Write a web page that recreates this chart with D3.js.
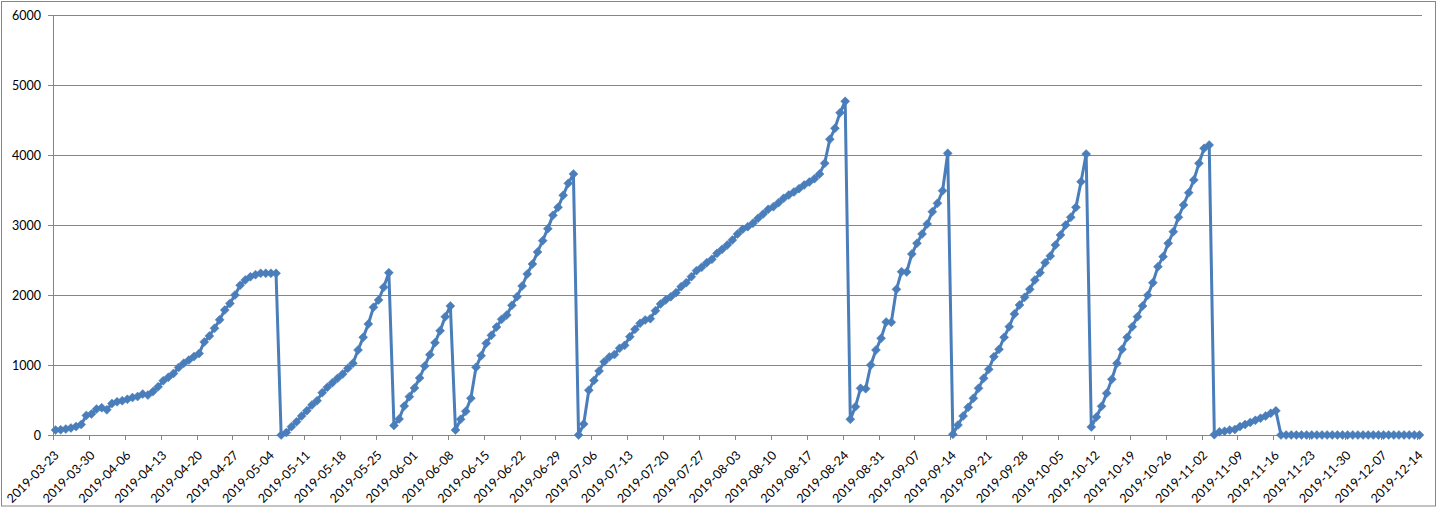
<!DOCTYPE html>
<html><head><meta charset="utf-8">
<script src="https://cdn.jsdelivr.net/npm/d3@7"></script>
<style>
html,body{margin:0;padding:0;background:#fff;}
svg{display:block;}
text{font-family:Lato,"Liberation Sans",sans-serif;font-size:12.5px;fill:#000;}
</style></head><body>
<svg id="chart" width="1438" height="510"></svg>
<script>
// ---- data ----
const startDate = "2019-03-23";
const values = [
  // 2019-03-23 .. 2019-05-05
  70, 75, 85, 100, 120, 150, 280, 300, 370, 390, 360, 450, 475, 490, 510, 535, 550, 585, 570, 620,
  690, 775, 825, 880, 965, 1025, 1070, 1120, 1165, 1330, 1415, 1525, 1645, 1785, 1880, 2000, 2140, 2215, 2260, 2290,
  2310, 2310, 2310, 2310,
  // 2019-05-06 .. 2019-05-27
  0, 35, 119, 190, 271, 348, 429, 490, 605, 681, 748, 810, 871, 952, 1024, 1214, 1395, 1586, 1824, 1929, 2110, 2319,
  // 2019-05-28 .. 2019-06-08
  135, 230, 414, 548, 671, 814, 986, 1148, 1319, 1490, 1690, 1843,
  // 2019-06-09 .. 2019-07-02
  71, 224, 338, 524, 967, 1133, 1310, 1424, 1543, 1652, 1714, 1852, 1976, 2129, 2300, 2443, 2614, 2776, 2948, 3138,
  3252, 3424, 3595, 3729,
  // 2019-07-03 .. 2019-08-24
  0, 157, 640, 780, 915, 1045, 1115, 1150, 1238, 1281, 1405, 1510, 1595, 1643, 1662, 1776, 1871, 1929, 1976, 2033,
  2119, 2176, 2262, 2348, 2395, 2462, 2510, 2595, 2652, 2714, 2786, 2871, 2938, 2976, 3024, 3095, 3157, 3224, 3262, 3319,
  3381, 3429, 3471, 3519, 3571, 3614, 3662, 3729, 3881, 4224, 4381, 4605, 4767,
  // 2019-08-25 .. 2019-09-13
  224, 405, 667, 662, 1000, 1214, 1381, 1614, 1610, 2081, 2333, 2329, 2586, 2738, 2871, 3014, 3190, 3310, 3490, 4024,
  // 2019-09-14 .. 2019-10-10
  10, 143, 271, 395, 524, 667, 810, 938, 1119, 1224, 1395, 1548, 1729, 1857, 1967, 2081, 2214, 2319, 2462, 2557,
  2714, 2857, 3000, 3110, 3252, 3619, 4014,
  // 2019-10-11 .. 2019-11-03
  115, 257, 410, 595, 795, 1024, 1224, 1395, 1548, 1690, 1843, 1995, 2176, 2405, 2548, 2738, 2905, 3110, 3286, 3462,
  3643, 3881, 4095, 4143,
  // 2019-11-04 .. 2019-11-16
  5, 45, 55, 70, 80, 120, 150, 180, 210, 240, 270, 310, 345,
  // 2019-11-17 .. 2019-12-14
  0, 0, 0, 0, 0, 0, 0, 0, 0, 0, 0, 0, 0, 0, 0, 0, 0, 0, 0, 0, 0, 0, 0, 0, 0, 0, 0, 0
];
const yTicks = [0, 1000, 2000, 3000, 4000, 5000, 6000];
const tickLabels = [
  "2019-03-23","2019-03-30","2019-04-06","2019-04-13","2019-04-20","2019-04-27","2019-05-04",
  "2019-05-11","2019-05-18","2019-05-25","2019-06-01","2019-06-08","2019-06-15","2019-06-22",
  "2019-06-29","2019-07-06","2019-07-13","2019-07-20","2019-07-27","2019-08-03","2019-08-10",
  "2019-08-17","2019-08-24","2019-08-31","2019-09-07","2019-09-14","2019-09-21","2019-09-28",
  "2019-10-05","2019-10-12","2019-10-19","2019-10-26","2019-11-02","2019-11-09","2019-11-16",
  "2019-11-23","2019-11-30","2019-12-07","2019-12-14"
];

// ---- categories (one per day) ----
const fmt = d3.utcFormat("%Y-%m-%d");
const startDay = d3.utcParse("%Y-%m-%d")(startDate);
const categories = values.map((v, i) => fmt(d3.utcDay.offset(startDay, i)));
const data = values.map((v, i) => ({cat: categories[i], v}));

// ---- layout ----
const plotLeft = 53, plotRight = 1422, plotTop = 15, plotBottom = 435;
const lineColor = "#4A7EBB", gridColor = "#868686";

const svg = d3.select("#chart");
svg.append("rect").attr("x", 1.5).attr("y", 1.5).attr("width", 1434).attr("height", 504.5)
  .attr("fill", "#fff").attr("stroke", gridColor).attr("stroke-width", 1);

const x = d3.scalePoint().domain(categories).range([plotLeft, plotRight]).padding(0.5);
const y = d3.scaleLinear().domain([0, 6000]).range([plotBottom, plotTop]);
const step = x.step();

// gridlines
svg.append("g").selectAll("line").data(yTicks.filter(t => t > 0)).join("line")
  .attr("x1", plotLeft).attr("x2", plotRight)
  .attr("y1", d => Math.round(y(d)) + 0.5).attr("y2", d => Math.round(y(d)) + 0.5)
  .attr("stroke", gridColor).attr("stroke-width", 1);

// y axis
const yAxis = svg.append("g");
yAxis.append("line").attr("x1", plotLeft + 0.5).attr("x2", plotLeft + 0.5).attr("y1", plotTop).attr("y2", plotBottom + 0.5)
  .attr("stroke", gridColor);
yAxis.selectAll("line.tk").data(yTicks).join("line").attr("class", "tk")
  .attr("x1", plotLeft - 5).attr("x2", plotLeft)
  .attr("y1", d => Math.round(y(d)) + 0.5).attr("y2", d => Math.round(y(d)) + 0.5)
  .attr("stroke", gridColor);
yAxis.selectAll("text").data(yTicks).join("text")
  .attr("x", 41).attr("y", d => y(d)).attr("dy", "0.36em")
  .attr("text-anchor", "end").text(d => d);

// x axis
const xAxis = svg.append("g");
xAxis.append("line").attr("x1", plotLeft).attr("x2", plotRight)
  .attr("y1", plotBottom + 0.5).attr("y2", plotBottom + 0.5).attr("stroke", gridColor);
xAxis.selectAll("line.tk").data(tickLabels).join("line").attr("class", "tk")
  .attr("x1", d => Math.round(x(d) - step / 2) + 0.5).attr("x2", d => Math.round(x(d) - step / 2) + 0.5)
  .attr("y1", plotBottom).attr("y2", plotBottom + 5)
  .attr("stroke", gridColor);
xAxis.selectAll("text").data(tickLabels).join("text")
  .attr("text-anchor", "end")
  .attr("transform", d => `translate(${x(d) + 1},${plotBottom + 18}) rotate(-45)`)
  .attr("dy", "0.35em")
  .text(d => d);

// series line
const line = d3.line().x(d => x(d.cat)).y(d => y(d.v));
svg.append("path").datum(data).attr("d", line)
  .attr("fill", "none").attr("stroke", lineColor).attr("stroke-width", 3)
  .attr("stroke-linejoin", "round").attr("stroke-linecap", "round");

// diamond markers
svg.append("g").selectAll("path").data(data).join("path")
  .attr("transform", d => `translate(${x(d.cat)},${y(d.v)})`)
  .attr("d", "M0,-4.5L4.5,0L0,4.5L-4.5,0Z")
  .attr("fill", lineColor).attr("stroke", lineColor).attr("stroke-width", 0.5);
</script>
</body></html>
